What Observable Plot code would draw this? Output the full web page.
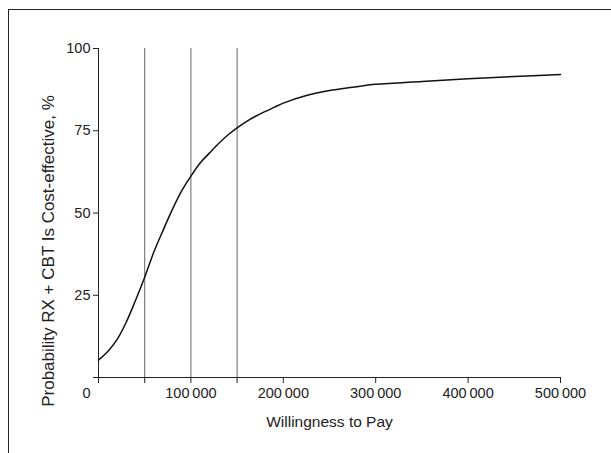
<!DOCTYPE html>
<html>
<head>
<meta charset="utf-8">
<script src="https://cdn.jsdelivr.net/npm/d3@7"></script>
<script src="https://cdn.jsdelivr.net/npm/@observablehq/plot@0.6"></script>
<style>
  html, body { margin: 0; padding: 0; background: #fff; }
  #wrap { position: relative; width: 611px; height: 453px; overflow: hidden; }
  #border { position: absolute; left: 8px; top: 9px; right: -5px; bottom: -5px;
            border-top: 1.5px solid #222; border-left: 1.5px solid #222; }
  #chart { position: absolute; left: 0; top: 0; }
</style>
</head>
<body>
<div id="wrap"><div id="border"></div><div id="chart"></div></div>
<script>
// Willingness to pay (x) and probability RX+CBT is cost-effective (%)
const wtp = [0, 10000, 20000, 30000, 40000, 50000, 60000, 70000, 80000, 90000,
  100000, 110000, 120000, 130000, 140000, 150000, 160000, 170000, 180000, 190000,
  200000, 225000, 250000, 275000, 300000, 350000, 400000, 450000, 500000];
const prob = [5.3, 7.9, 11.5, 16.8, 23.4, 30.5, 38.2, 44.8, 51.1, 56.7,
  61.2, 65.2, 68.2, 71.1, 73.7, 75.9, 77.8, 79.4, 80.8, 82.1,
  83.4, 85.7, 87.2, 88.2, 89.1, 90.0, 90.8, 91.5, 92.1];
const thresholds = [50000, 100000, 150000];
const xTicks = [0, 50000, 100000, 150000, 200000, 300000, 400000, 500000];
const xLabelled = [100000, 200000, 300000, 400000, 500000];
const yTicks = [0, 25, 50, 75, 100];
const xTitle = "Willingness to Pay";
const yTitle = "Probability RX + CBT Is Cost-effective, %";

const data = wtp.map((w, i) => ({w, p: prob[i]}));
const fmt = n => xLabelled.includes(n) ? d3.format(",")(n).replace(/,/g, "\u2009") : "";

const font = "'Liberation Sans', Arial, sans-serif";

const plot = Plot.plot({
  width: 611,
  height: 453,
  marginLeft: 98,
  marginRight: 51,
  marginTop: 48,
  marginBottom: 76,
  style: {fontFamily: font, fontSize: "14.5px", color: "#222", background: "transparent"},
  x: {domain: [0, 500000]},
  y: {domain: [0, 100]},
  marks: [
    Plot.ruleX(thresholds, {y1: 0, y2: 100, stroke: "#666", strokeWidth: 1}),
    Plot.axisX({ticks: xTicks, tickFormat: fmt, tickSize: 6, tickPadding: 4,
      label: null, fontSize: 14.5, stroke: "#222"}),
    Plot.axisX([0], {tickSize: 0, tickPadding: 10, dx: -12, tickFormat: d => "0",
      label: null, fontSize: 14.5}),
    Plot.axisY({ticks: yTicks, tickFormat: d => d === 0 ? "" : d, tickSize: 5,
      tickPadding: 3, label: null, fontSize: 14.5, stroke: "#222"}),
    Plot.ruleY([0], {stroke: "#222"}),
    Plot.ruleX([0], {stroke: "#222"}),
    Plot.text([xTitle], {frameAnchor: "bottom", textAnchor: "middle", lineAnchor: "bottom",
      dy: 49, fontSize: 15.5, fill: "#222"}),
    Plot.text([yTitle], {frameAnchor: "left", textAnchor: "middle", rotate: -90, dx: -50, dy: 38,
      fontSize: 17, fill: "#222"}),
    Plot.line(data, {x: "w", y: "p", curve: "catmull-rom", stroke: "#111", strokeWidth: 1.5})
  ]
});
document.getElementById("chart").appendChild(plot);
</script>
</body>
</html>
